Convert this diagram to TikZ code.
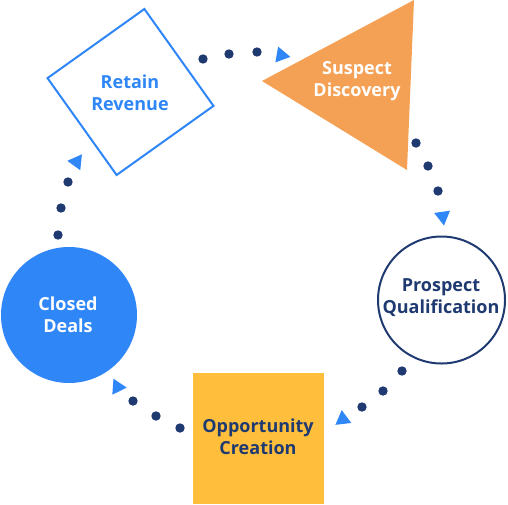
\documentclass[tikz,border=0pt]{standalone}
\usepackage{fontspec}
\setsansfont{Open Sans}
\usepackage{tikz}
\usetikzlibrary{positioning,shapes.geometric}
\definecolor{navy}{RGB}{31,58,112}
\definecolor{skyblue}{RGB}{47,134,247}
\definecolor{peach}{RGB}{244,161,86}
\definecolor{amber}{RGB}{255,191,60}
\tikzset{
  basic/.style  = {font=\sffamily\bfseries\fontsize{18}{22}\selectfont, align=center, inner sep=0pt},
  stage/.style  = {basic, text=navy},
  light/.style  = {basic, text=white},
  dot/.style    = {circle, fill=navy, inner sep=0pt, minimum size=9.4pt},
  tip/.style    = {regular polygon, regular polygon sides=3, fill=skyblue,
                   inner sep=0pt, minimum size=18.5pt}
}

\begin{document}
\begin{tikzpicture}[x=1pt, y=-1pt]
      \useasboundingbox (0,0) rectangle (508,504);
      % shapes
      \fill[peach] (414,0) -- (262,81) -- (407,170) -- cycle;
      \node[rectangle, draw=skyblue, line width=2pt, minimum size=119pt, rotate=35.5] (retainbox) at (130.5,92) {};
      \node[circle, draw=navy, line width=2pt, minimum size=127pt] (prospectbox) at (441.5,300) {};
      \node[rectangle, fill=amber, minimum size=131pt] (opportunitybox) at (258.5,438.5) {};
      \node[circle, fill=skyblue, minimum size=136pt] (closedbox) at (69,315) {};
      % labels
      \node[basic, text=skyblue] (retain)      at (130,93)  {Retain\\Revenue};
      \node[light]               (suspect)     at (357,81)  {Suspect\\Discovery};
      \node[stage]               (prospect)    at (441,298) {Prospect\\Qualification};
      \node[stage]               (opportunity) at (258,437) {Opportunity\\Creation};
      \node[light]               (closed)      at (68,315)  {Closed\\Deals};
      % dotted connectors
      \foreach \p in {(203,59),(229,54),(257,52),
                      (416,143),(428,166),(438,191),
                      (402,371),(383,391),(362,407),
                      (180,428),(156,416),(133,401),
                      (58,235),(61,208),(68,182)}
        \node[dot] at \p {};
      \node[tip, rotate=-100] (tipA) at (281.3,55.3) {};
      \node[tip, rotate=-172] (tipB) at (442.7,216.4) {};
      \node[tip, rotate=6.7]  (tipC) at (342.8,419.3) {};
      \node[tip, rotate=-94]  (tipD) at (117.5,387) {};
      \node[tip, rotate=84]   (tipE) at (76.5,161.8) {};
\end{tikzpicture}
\end{document}
